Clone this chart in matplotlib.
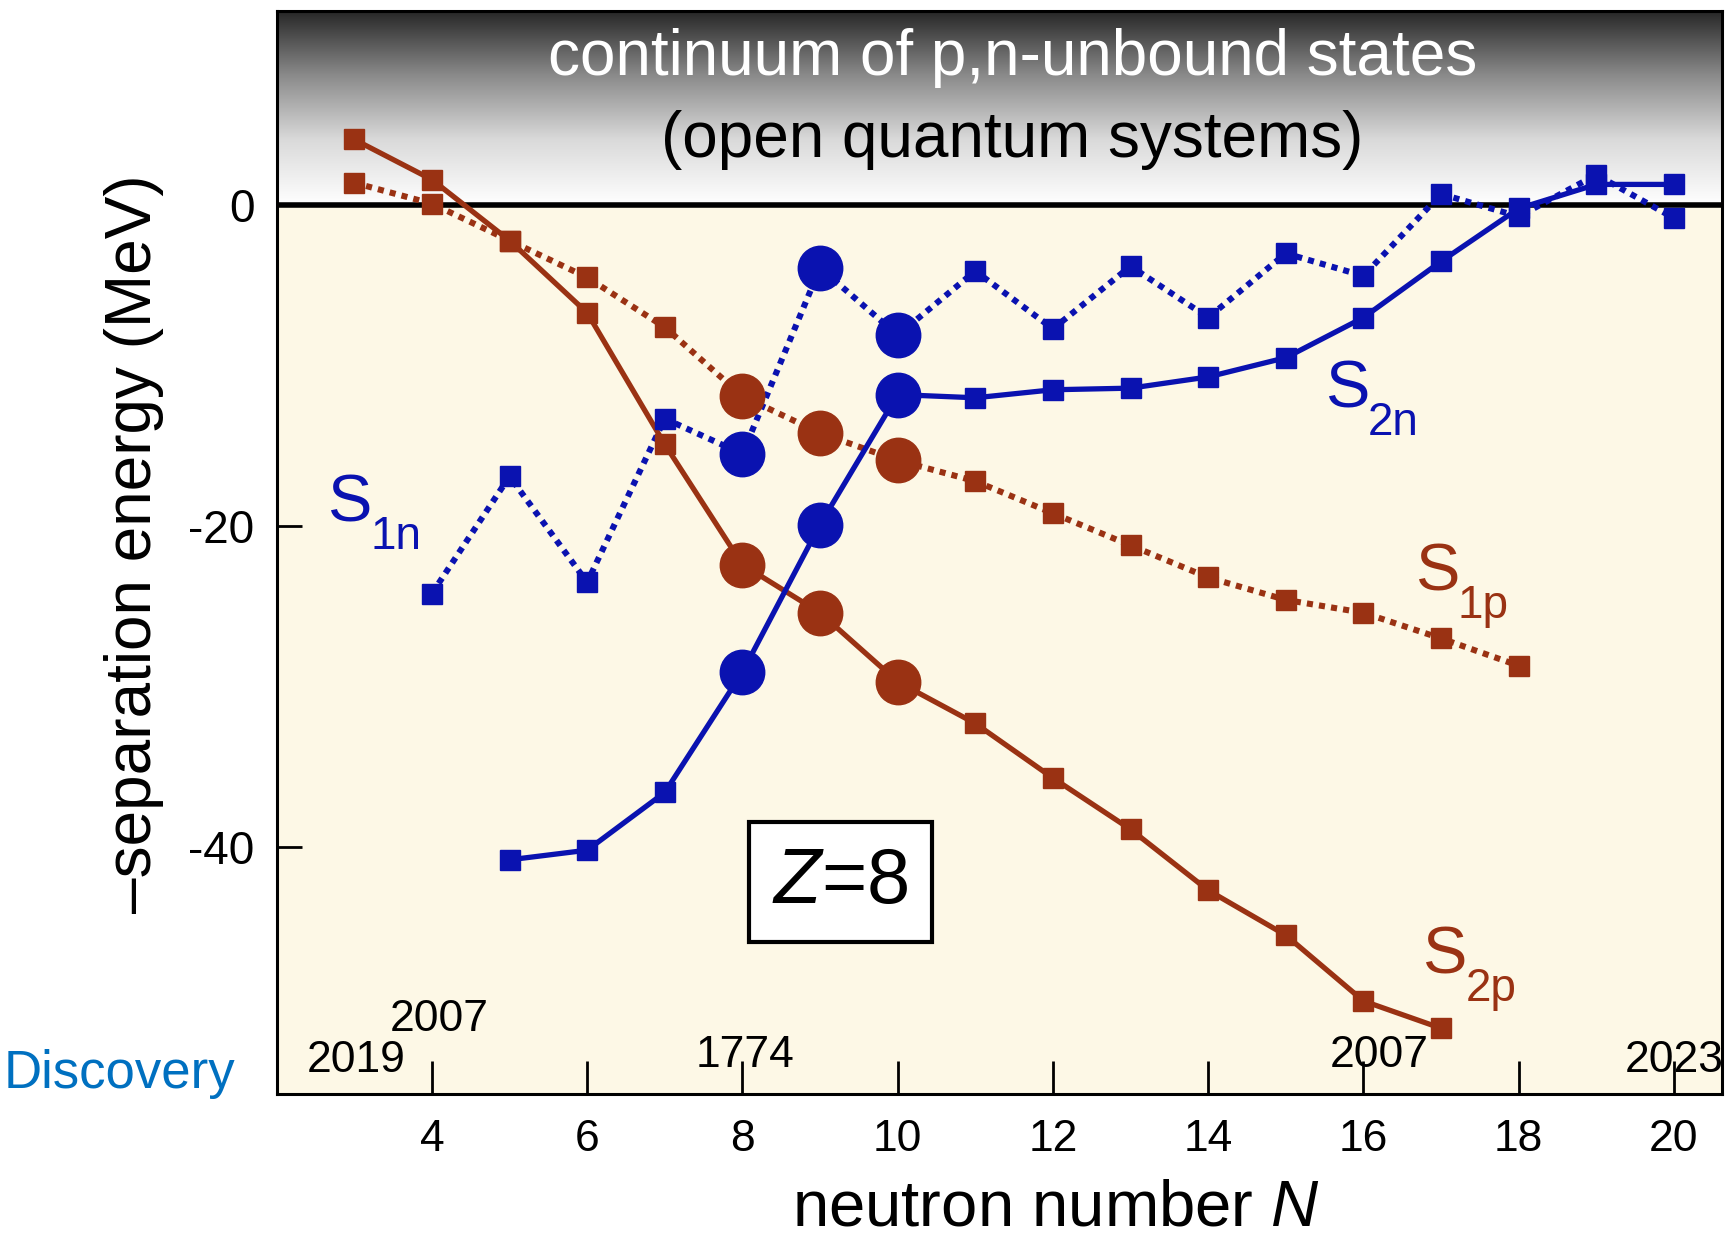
import numpy as np
import matplotlib
matplotlib.use("Agg")
import matplotlib.pyplot as plt
from matplotlib.colors import LinearSegmentedColormap
from matplotlib.transforms import offset_copy

plt.rcParams['mathtext.fontset'] = 'custom'
plt.rcParams['mathtext.rm'] = 'Liberation Sans'
plt.rcParams['mathtext.it'] = 'Liberation Sans:italic'

ARIAL = ['Liberation Sans', 'DejaVu Sans']

# separation energies for oxygen isotopes (Z=8), negated, in MeV
n_2p = [3, 4, 5, 6, 7, 8, 9, 10, 11, 12, 13, 14, 15, 16, 17]
s_2p = [4.1, 1.6, -2.2, -6.7, -14.9, -22.4, -25.4, -29.7, -32.3, -35.7,
        -38.9, -42.7, -45.5, -49.6, -51.3]

n_1p = [3, 4, 5, 6, 7, 8, 9, 10, 11, 12, 13, 14, 15, 16, 17, 18]
s_1p = [1.4, 0.1, -2.2, -4.5, -7.6, -11.9, -14.2, -15.9, -17.2, -19.2,
        -21.2, -23.2, -24.6, -25.4, -27.0, -28.7]

n_1n = [4, 5, 6, 7, 8, 9, 10, 11, 12, 13, 14, 15, 16, 17, 18, 19, 20]
s_1n = [-24.2, -16.9, -23.5, -13.3, -15.5, -3.9, -8.1, -4.1, -7.7, -3.8,
        -7.0, -3.0, -4.4, 0.7, -0.7, 1.9, -0.8]

n_2n = [5, 6, 7, 8, 9, 10, 11, 12, 13, 14, 15, 16, 17, 18, 19, 20]
s_2n = [-40.8, -40.2, -36.6, -29.1, -19.9, -11.8, -12.0, -11.5, -11.4,
        -10.7, -9.5, -7.0, -3.5, -0.2, 1.3, 1.3]

stable = [8, 9, 10]

# discovery years along the bottom
year_n = [3.03, 4.1, 8.03, 16.2, 20.0]
year_txt = ['2019', '2007', '1774', '2007', '2023']
year_y = [-54.0, -51.5, -53.7, -53.7, -54.0]

x_ticks = [4, 6, 8, 10, 12, 14, 16, 18, 20]
y_ticks = [0, -20, -40]

BROWN = '#9a3213'
BLUE = '#0a12b0'
CREAM = '#fdf8e6'

xmin, xmax = 2.0, 20.62
ymin, ymax = -55.4, 12.1

fig = plt.figure(figsize=(17.29, 12.39), dpi=100)
ax = fig.add_axes([0.160, 0.117, 0.836, 0.874])
ax.set_xlim(xmin, xmax)
ax.set_ylim(ymin, ymax)

# shaded continuum above zero, cream bound region below
grad = np.linspace(0, 1, 256).reshape(-1, 1)
cmap = LinearSegmentedColormap.from_list('cont', ['#ffffff', '#dadada', '#8a8a8a', '#262626'])
ax.imshow(grad, cmap=cmap, extent=[xmin, xmax, 0, ymax], origin='lower',
          aspect='auto', zorder=0)
ax.axhspan(ymin, 0, color=CREAM, zorder=0)
ax.axhline(0, color='black', lw=4, zorder=1)


def draw(ns, vals, color, ls, lw):
    ax.plot(ns, vals, color=color, ls=ls, lw=lw, zorder=2,
            solid_capstyle='butt', dash_capstyle='butt')
    sq = [(n, v) for n, v in zip(ns, vals) if n not in stable]
    ci = [(n, v) for n, v in zip(ns, vals) if n in stable]
    ax.plot([p[0] for p in sq], [p[1] for p in sq], ls='none', marker='s',
            ms=15, color=color, zorder=3)
    ax.plot([p[0] for p in ci], [p[1] for p in ci], ls='none', marker='o',
            ms=32, color=color, zorder=3)


dots = (0, (1.0, 1.0))
draw(n_2p, s_2p, BROWN, '-', 3.8)
draw(n_1p, s_1p, BROWN, dots, 4.4)
draw(n_1n, s_1n, BLUE, dots, 4.4)
draw(n_2n, s_2n, BLUE, '-', 3.8)


def s_label(x, y, sub, color):
    ax.text(x, y, 'S', color=color, fontsize=48, family=ARIAL,
            ha='left', va='baseline')
    sub_tr = offset_copy(ax.transData, fig=fig, x=31, y=-20, units='points')
    ax.text(x, y, sub, color=color, fontsize=33, family=ARIAL,
            ha='left', va='baseline', transform=sub_tr)


s_label(2.65, -19.7, '1n', BLUE)
s_label(15.5, -12.6, '2n', BLUE)
s_label(16.66, -24.0, '1p', BROWN)
s_label(16.76, -47.9, '2p', BROWN)

ax.text(9.26, -42.2, r'$Z$=8', fontsize=56, family=ARIAL, ha='center',
        va='center', zorder=4,
        bbox=dict(boxstyle='square,pad=0.3', fc='white', ec='black', lw=3))

ax.text(11.48, 9.2, 'continuum of p,n-unbound states', color='white',
        fontsize=46, family=ARIAL, ha='center', va='center', zorder=4)
ax.text(11.48, 4.05, '(open quantum systems)', color='black',
        fontsize=46, family=ARIAL, ha='center', va='center', zorder=4)

for n, t, y in zip(year_n, year_txt, year_y):
    ax.text(n, y, t, fontsize=32, family=ARIAL, ha='center',
            va='baseline', zorder=4)

fig.text(0.002, 0.133, 'Discovery', color='#0070c0', fontsize=38,
         family=ARIAL, ha='left', va='center')

ax.set_xticks(x_ticks)
ax.set_yticks(y_ticks)
ax.set_yticklabels(['0', '-20', '-40'])
ax.tick_params(axis='x', direction='in', length=24, width=2, pad=18,
               labelsize=32)
ax.tick_params(axis='y', direction='in', length=18, width=2, pad=16,
               labelsize=33)
for lab in ax.get_xticklabels() + ax.get_yticklabels():
    lab.set_family(ARIAL)
for s in ax.spines.values():
    s.set_linewidth(2.2)
    s.set_zorder(5)

ax.set_xlabel(r'neutron number $\mathit{N}$', fontsize=47, family=ARIAL)
ax.xaxis.set_label_coords(0.539, -0.078)
ax.set_ylabel('\u2013separation energy (MeV)', fontsize=46, family=ARIAL)
ax.yaxis.set_label_coords(-0.078, 0.508)

fig.savefig('out.png', dpi=100)
